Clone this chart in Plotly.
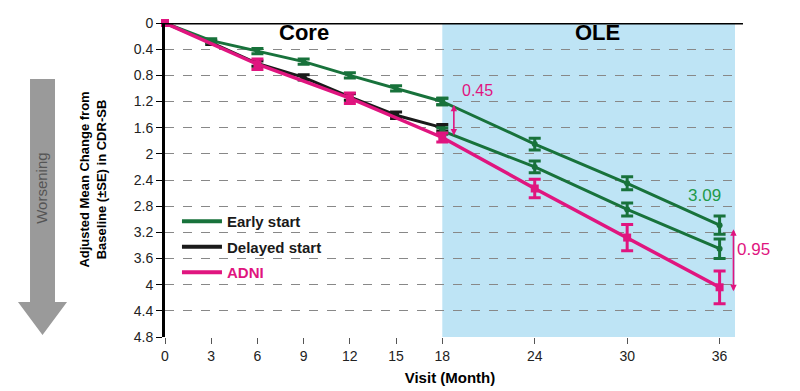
import plotly.graph_objects as go

# ---- data ----
months_core = [0, 3, 6, 9, 12, 15, 18]
early_core = [0, 0.27, 0.43, 0.59, 0.80, 1.00, 1.20]
early_core_se = [0, 0.03, 0.04, 0.04, 0.04, 0.04, 0.05]
delayed_core = [0, 0.30, 0.62, 0.83, 1.13, 1.41, 1.60]
delayed_core_se = [0, 0.03, 0.04, 0.04, 0.05, 0.05, 0.05]

months_ole = [18, 24, 30, 36]
early_ole = [1.20, 1.85, 2.45, 3.09]
early_ole_se = [0.05, 0.09, 0.10, 0.14]
delayed_ole = [1.65, 2.20, 2.85, 3.45]
delayed_ole_se = [0.05, 0.09, 0.10, 0.15]

months_adni = [0, 6, 12, 18, 24, 30, 36]
adni = [0, 0.63, 1.15, 1.75, 2.53, 3.28, 4.04]
adni_se = [0, 0.08, 0.08, 0.07, 0.14, 0.20, 0.25]

x_ticks = [0, 3, 6, 9, 12, 15, 18, 24, 30, 36]
y_ticks = [0, 0.4, 0.8, 1.2, 1.6, 2, 2.4, 2.8, 3.2, 3.6, 4, 4.4, 4.8]
y_tick_text = ["0", "0.4", "0.8", "1.2", "1.6", "2", "2.4", "2.8", "3.2", "3.6", "4", "4.4", "4.8"]

GREEN = "#18723B"
BLACK = "#1A1A1A"
MAGENTA = "#E0157F"
BLUE = "#BEE4F5"
FONT = "Liberation Sans, Arial, sans-serif"

fig = go.Figure()

def err(vals, color):
    return dict(type="data", array=vals, color=color, thickness=3, width=6)

fig.add_trace(go.Scatter(x=months_core, y=delayed_core, mode="lines+markers",
                         line=dict(color=BLACK, width=3), marker=dict(symbol="square", size=6, color=BLACK),
                         error_y=err(delayed_core_se, BLACK), showlegend=False, cliponaxis=False))
fig.add_trace(go.Scatter(x=months_core, y=early_core, mode="lines+markers",
                         line=dict(color=GREEN, width=3), marker=dict(symbol="square", size=5, color=GREEN),
                         error_y=err(early_core_se, GREEN), showlegend=False, cliponaxis=False))
fig.add_trace(go.Scatter(x=months_ole, y=early_ole, mode="lines+markers",
                         line=dict(color=GREEN, width=3), marker=dict(symbol="circle", size=6, color=GREEN),
                         error_y=err(early_ole_se, GREEN), showlegend=False, cliponaxis=False))
fig.add_trace(go.Scatter(x=months_ole, y=delayed_ole, mode="lines+markers",
                         line=dict(color=GREEN, width=3), marker=dict(symbol="circle", size=6, color=GREEN),
                         error_y=err(delayed_ole_se, GREEN), showlegend=False, cliponaxis=False))
fig.add_trace(go.Scatter(x=months_adni, y=adni, mode="lines+markers",
                         line=dict(color=MAGENTA, width=3.5), marker=dict(symbol="square", size=8, color=MAGENTA),
                         error_y=err(adni_se, MAGENTA), showlegend=False, cliponaxis=False))

# legend-only entries
for name, color, grp in [("Early start", GREEN, "a"), ("Delayed start", BLACK, "b"),
                         ("<span style='color:%s'>ADNI</span>" % MAGENTA, MAGENTA, "c")]:
    fig.add_trace(go.Scatter(x=[None], y=[None], mode="lines", name=name, legendgroup=grp,
                             line=dict(color=color, width=4)))

shapes = [
    dict(type="rect", xref="x", yref="y", x0=18, x1=37, y0=0, y1=4.8,
         fillcolor=BLUE, line=dict(width=0), layer="below"),
    dict(type="line", xref="paper", yref="y", x0=0, x1=1.014, y0=0, y1=0,
         line=dict(color="black", width=3)),
    # Worsening arrow
    dict(type="path", xref="paper", yref="paper",
         path="M -0.2368 0.8217 L -0.1930 0.8217 L -0.1930 0.1115 L -0.1719 0.1115 "
              "L -0.2149 0.0064 L -0.2579 0.1115 L -0.2368 0.1115 Z",
         fillcolor="#9A9A9A", line=dict(width=0)),
]

annotations = [
    dict(x=9, y=0.15, xref="x", yref="y", text="<b>Core</b>", showarrow=False,
         font=dict(size=22, color="black", family=FONT)),
    dict(x=28.1, y=0.15, xref="x", yref="y", text="<b>OLE</b>", showarrow=False,
         font=dict(size=22, color="black", family=FONT)),
    dict(x=20.3, y=1.03, xref="x", yref="y", text="0.45", showarrow=False,
         font=dict(size=16, color=MAGENTA, family=FONT)),
    dict(x=18.75, y=1.72, ax=18.75, ay=1.23, xref="x", yref="y", axref="x", ayref="y",
         text="", showarrow=True, arrowhead=2, startarrowhead=2, arrowside="end+start",
         arrowsize=0.8, arrowwidth=1.6, arrowcolor=MAGENTA),
    dict(x=35.05, y=2.64, xref="x", yref="y", text="3.09", showarrow=False,
         font=dict(size=17, color="#1E9A4A", family=FONT)),
    dict(x=(753 - 165) / 570, y=3.46, xref="paper", yref="y", text="0.95", showarrow=False,
         xanchor="center", font=dict(size=17, color=MAGENTA, family=FONT)),
    dict(x=36.9, y=4.1, ax=36.9, ay=3.13, xref="x", yref="y", axref="x", ayref="y",
         text="", showarrow=True, arrowhead=2, startarrowhead=2, arrowside="end+start",
         arrowsize=0.8, arrowwidth=1.6, arrowcolor=MAGENTA),
    dict(x=-0.127, y=0.5, xref="paper", yref="paper", xanchor="center", yanchor="middle",
         text="<b>Adjusted Mean Change from<br>Baseline (±SE) in CDR-SB</b>",
         textangle=-90, showarrow=False, font=dict(size=13, color="black", family=FONT)),
    dict(x=-0.2158, y=0.475, xref="paper", yref="paper", xanchor="center", yanchor="middle",
         text="Worsening", textangle=-90, showarrow=False,
         font=dict(size=15, color="#555555", family=FONT)),
]

# The page body has an 8px margin, so the figure is 8px smaller and margins shifted.
fig.update_layout(
    width=792, height=383,
    margin=dict(l=157, r=65, t=15, b=54, autoexpand=False),
    paper_bgcolor="white", plot_bgcolor="white",
    font=dict(family=FONT, color="#222222", size=14),
    shapes=shapes, annotations=annotations,
    legend=dict(x=0.021, y=0.42, xanchor="left", yanchor="top", bgcolor="rgba(0,0,0,0)",
                font=dict(size=15, color="#1a1a1a", family=FONT, weight="bold"),
                traceorder="grouped", tracegroupgap=3, itemwidth=40),
    xaxis=dict(range=[0, 37], tickvals=x_ticks, ticks="outside", ticklen=6, tickcolor="#555",
               showgrid=False, zeroline=False, showline=False, automargin=False,
               tickfont=dict(size=14, color="#222"),
               title=dict(text="<b>Visit (Month)</b>", font=dict(size=15, color="black"), standoff=9)),
    yaxis=dict(range=[4.8, 0], tickvals=y_ticks, ticktext=y_tick_text, ticks="outside", ticklen=6,
               tickcolor="black", showline=True, linecolor="black", linewidth=3, automargin=False,
               showgrid=True, gridcolor="#888888", griddash="dash", gridwidth=1, zeroline=False,
               tickfont=dict(size=14, color="#222")),
)

fig.write_html("out.html")
